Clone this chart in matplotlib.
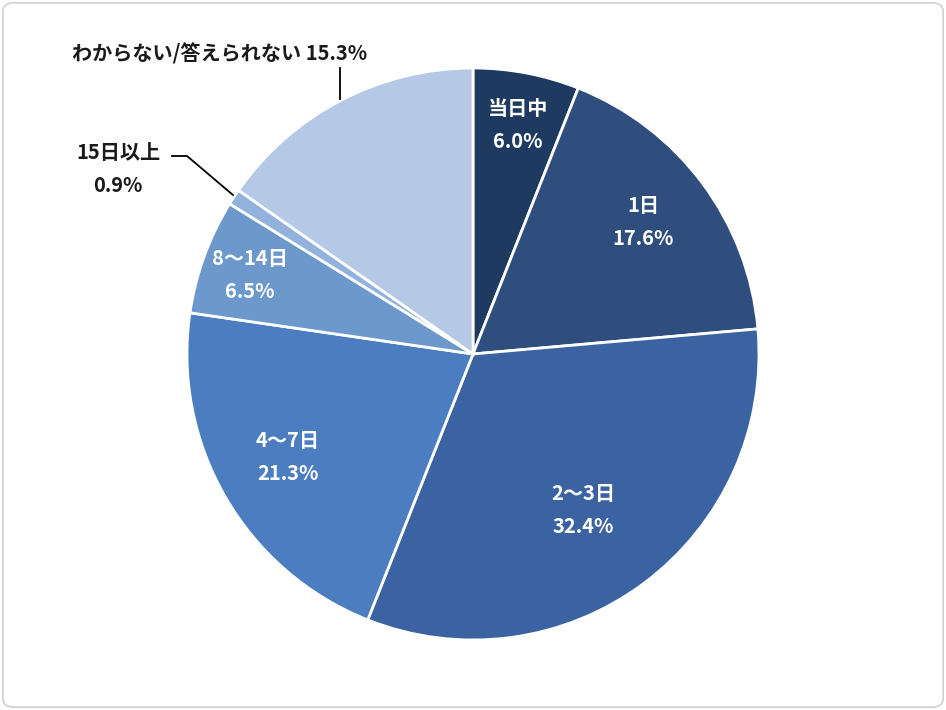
import matplotlib
matplotlib.use("Agg")
from matplotlib import pyplot as plt
from matplotlib.patches import FancyBboxPatch

# response time breakdown, clockwise from 12 o'clock
categories = ["当日中", "1日", "2〜3日", "4〜7日", "8〜14日", "15日以上", "わからない/答えられない"]
values = [6.0, 17.6, 32.4, 21.3, 6.5, 0.9, 15.3]
colors = ["#1f3a60", "#2f4e7d", "#3c63a1", "#4c7dc0", "#6d98cc", "#92b1dd", "#b5c8e5"]

plt.rcParams['font.family'] = ['Noto Sans CJK JP', 'DejaVu Sans']

fig = plt.figure(figsize=(9.46, 7.10), dpi=100)
ax = fig.add_axes([0, 0, 1, 1])

# rounded frame
fig.patches.append(FancyBboxPatch((0.003, 0.004), 0.994, 0.992, boxstyle="round,pad=0,rounding_size=0.012",
                                  transform=fig.transFigure, facecolor="white", edgecolor="#d0d0d0",
                                  linewidth=1.2, zorder=-1))

ax.pie(values, colors=colors, startangle=90, counterclock=False, center=(473, 356), radius=286,
       wedgeprops=dict(edgecolor="white", linewidth=2))
ax.set_xlim(0, 946)
ax.set_ylim(0, 710)
ax.set_aspect('equal')
ax.axis('off')

fs = 14.5
# label placement (pixel coords from the top)
inside = [(518, 125), (643, 222), (583, 510), (288, 457), (250, 275)]
for i, (x, y) in enumerate(inside):
    ax.text(x, 710 - y, f"{categories[i]}\n{values[i]:.1f}%", ha="center", va="center",
            color="white", fontsize=fs, fontweight="bold", linespacing=1.7)

ax.text(118, 710 - 169, f"{categories[5]}\n{values[5]:.1f}%", ha="center", va="center",
        color="#1a1a1a", fontsize=fs, fontweight="bold", linespacing=1.7)
ax.plot([172, 187, 233], [710 - 156, 710 - 156, 710 - 195], color="black", linewidth=1.3)

ax.text(220, 710 - 54, f"{categories[6]} {values[6]:.1f}%", ha="center", va="center",
        color="#1a1a1a", fontsize=fs, fontweight="bold")
ax.plot([340, 340], [710 - 68, 710 - 99], color="black", linewidth=1.3)

fig.savefig("out.png", dpi=100)
